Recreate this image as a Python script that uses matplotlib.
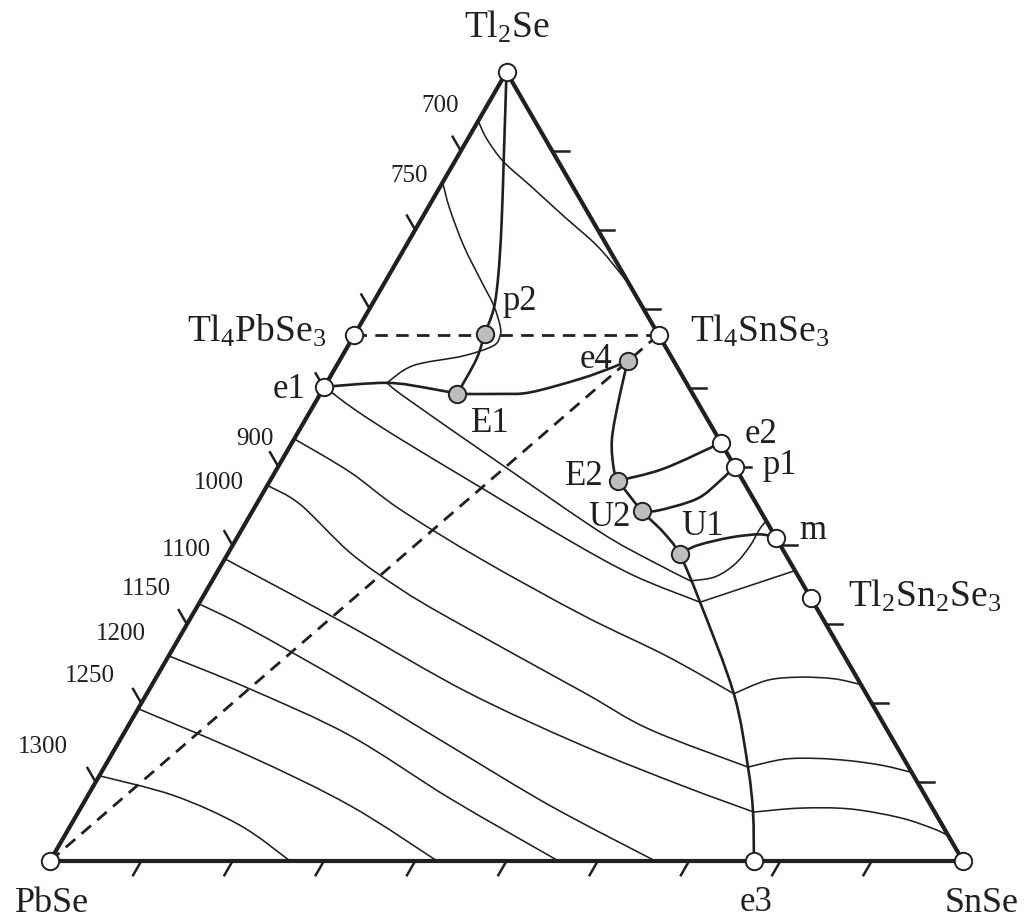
import numpy as np
import matplotlib
matplotlib.use('Agg')
import matplotlib.pyplot as plt
from matplotlib.path import Path
from matplotlib.patches import PathPatch

plt.rcParams['font.family'] = ['Liberation Serif', 'DejaVu Serif']
plt.rcParams['mathtext.fontset'] = 'custom'
plt.rcParams['mathtext.rm'] = 'Liberation Serif'
plt.rcParams['mathtext.it'] = 'Liberation Serif:italic'
plt.rcParams['mathtext.default'] = 'regular'

# ---------------- data (compositions, mol %: SnSe, Tl2Se) ----------------
open_names = ['Tl$_2$Se', 'PbSe', 'SnSe', 'Tl$_4$PbSe$_3$', 'Tl$_4$SnSe$_3$',
              'Tl$_2$Sn$_2$Se$_3$', 'e1', 'e2', 'p1', 'm', 'e3']
open_snse = [0, 0, 100, 0, 33.3, 66.7, 0, 47.0, 50.0, 59.0, 77.1]
open_tl2se = [100, 0, 0, 66.7, 66.7, 33.3, 60.1, 53.0, 50.0, 41.0, 0]

gray_names = ['p2', 'E1', 'e4', 'E2', 'U2', 'U1']
gray_snse = [14.2, 15.0, 31.6, 38.1, 42.6, 49.5]
gray_tl2se = [66.8, 59.2, 63.4, 48.2, 44.4, 38.9]

tick_values = [10, 20, 30, 40, 50, 60, 70, 80, 90]

# monovariant (boundary) curves
b_apex_p2_snse = [0, 5.2, 9.2, 12.0, 13.6, 14.2]
b_apex_p2_tl2se = [100, 89.0, 80.5, 74.2, 70.0, 66.8]
b_p2_E1_snse = [14.2, 14.9, 15.0]
b_p2_E1_tl2se = [66.8, 63.6, 59.2]
b_e1_E1_snse = [0, 6.6, 11.6, 15.0]
b_e1_E1_tl2se = [60.1, 60.6, 59.9, 59.2]
b_E1_e4_snse = [15.0, 19.7, 22.9, 27.5, 30.4, 31.6]
b_E1_e4_tl2se = [59.2, 59.2, 59.4, 61.1, 62.6, 63.4]
b_e4_E2_snse = [31.6, 32.9, 34.8, 36.9, 38.1]
b_e4_E2_tl2se = [63.4, 59.0, 53.5, 49.7, 48.2]
b_E2_e2_snse = [38.1, 42.3, 47.0]
b_E2_e2_tl2se = [48.2, 49.7, 53.0]
b_E2_e3_snse = [38.1, 42.6, 46.3, 49.5, 54.8, 64.3, 70.5, 73.9, 77.1]
b_E2_e3_tl2se = [48.2, 44.4, 41.7, 38.9, 32.8, 21.2, 11.9, 6.2, 0]
b_U2_p1_snse = [42.6, 44.3, 47.9, 49.3, 50.0]
b_U2_p1_tl2se = [44.4, 44.4, 45.9, 48.2, 50.0]
b_U1_m_snse = [49.5, 50.9, 54.0, 57.0, 59.0]
b_U1_m_tl2se = [38.9, 40.0, 41.0, 41.4, 41.0]

# isotherms
iso700_snse = [0, 2.1, 5.4, 9.8, 15.3, 20.9, 25.1, 27.1]
iso700_tl2se = [93.8, 91.5, 88.6, 85.6, 81.8, 78.0, 74.6, 72.9]
iso750_snse = [0, 2.5, 6.3, 10.2, 13.4, 15.4, 16.0, 15.9, 13.2, 8.4, 6.6]
iso750_tl2se = [86.0, 82.6, 78.0, 73.8, 70.4, 67.8, 66.6, 65.3, 64.0, 62.8, 60.6]
isoA_snse = [6.6, 9.8, 24.6, 39.4, 46.7, 52.4]
isoA_tl2se = [60.6, 58.6, 50.1, 41.7, 38.1, 35.5]
isoA_r_snse = [52.4, 54.8, 56.2, 56.7, 56.7, 56.9]
isoA_r_tl2se = [35.5, 36.0, 37.6, 39.9, 42.1, 43.1]
isoB_snse = [0, 4.8, 11.6, 23.4, 36.2, 45.8, 54.8]
isoB_tl2se = [60.1, 57.2, 53.5, 47.4, 40.8, 36.2, 32.8]
isoB_r_snse = [54.8, 59.2, 63.2]
isoB_r_tl2se = [32.8, 34.9, 36.8]
iso900_snse = [0, 8.2, 16.0, 28.0, 42.9, 54.5, 64.3]
iso900_tl2se = [53.5, 49.3, 44.6, 38.3, 31.1, 26.0, 21.2]
iso900_r_snse = [64.3, 67.1, 70.5, 74.3, 77.5]
iso900_r_tl2se = [21.2, 22.9, 23.3, 23.1, 22.4]
iso1000_snse = [0, 4.8, 13.3, 21.1, 28.5, 47.7, 57.3, 70.5]
iso1000_tl2se = [47.6, 45.2, 39.1, 34.5, 30.7, 21.4, 16.7, 11.9]
iso1000_r_snse = [70.5, 73.9, 77.5, 81.3, 85.2, 88.9]
iso1000_r_tl2se = [11.9, 12.9, 13.0, 12.7, 12.1, 11.2]
iso1100_snse = [0, 3.6, 17.9, 35.0, 51.1, 64.6, 74.0]
iso1100_tl2se = [38.3, 36.6, 29.8, 21.4, 14.6, 9.5, 6.2]
iso1100_r_snse = [74.0, 78.8, 84.3, 90.3, 94.7, 96.8]
iso1100_r_tl2se = [6.2, 6.7, 6.6, 5.5, 4.1, 3.2]
iso1150_snse = [0, 7.2, 21.8, 36.5, 51.3, 66.3]
iso1150_tl2se = [32.6, 29.4, 22.2, 14.6, 7.0, 0]
iso1200_snse = [0, 11.0, 24.9, 39.9, 55.7]
iso1200_tl2se = [26.0, 21.8, 15.9, 7.9, 0]
iso1250_snse = [0, 15.2, 29.4, 42.4]
iso1250_tl2se = [19.3, 13.3, 7.0, 0]
iso1300_snse = [0, 9.4, 18.6, 26.3]
iso1300_tl2se = [10.8, 8.3, 4.5, 0]

iso_labels = ['700', '750', '900', '1000', '1100', '1150', '1200', '1250', '1300']

# ---------------- helpers ----------------
INK = '#231f20'
S3 = np.sqrt(3) / 2


def tern(sn, tl):
    sn = np.asarray(sn, float)
    tl = np.asarray(tl, float)
    return sn + tl / 2, tl * S3


def smooth_path(xs, ys):
    P = np.column_stack([xs, ys])
    n = len(P)
    if n == 2:
        return Path(P)
    ext = np.vstack([P[0], P, P[-1]])
    verts = [P[0]]
    codes = [Path.MOVETO]
    for i in range(n - 1):
        p0, p1, p2, p3 = ext[i], ext[i + 1], ext[i + 2], ext[i + 3]
        c1 = p1 + (p2 - p0) / 6
        c2 = p2 - (p3 - p1) / 6
        verts += [c1, c2, p2]
        codes += [Path.CURVE4] * 3
    return Path(verts, codes)


def curve(ax, sn, tl, lw, z=2):
    x, y = tern(sn, tl)
    ax.add_patch(PathPatch(smooth_path(x, y), fill=False, lw=lw, edgecolor=INK,
                           capstyle='round', joinstyle='round', zorder=z,
                           clip_on=False))


fig = plt.figure(figsize=(10.24, 9.2), dpi=100)
ax = fig.add_axes([50 / 1024, 58 / 920, 913 / 1024, 789 / 920])
ax.set_xlim(0, 100)
ax.set_ylim(0, 100 * S3)
ax.axis('off')

# triangle frame
tx, ty = tern([0, 100, 0, 0], [0, 0, 100, 0])
ax.plot(tx, ty, color=INK, lw=3.0, solid_joinstyle='miter', clip_on=False, zorder=3)

# ticks
L = 1.8
for t in tick_values:
    x0, y0 = tern(t, 0)
    ax.plot([x0, x0 - 0.5 * L], [y0, y0 - S3 * L], color=INK, lw=1.8, clip_on=False)
    x0, y0 = tern(0, t)
    ax.plot([x0, x0 - 0.5 * L], [y0, y0 + S3 * L], color=INK, lw=1.8, clip_on=False)
    x0, y0 = tern(100 - t, t)
    ax.plot([x0, x0 + L], [y0, y0], color=INK, lw=1.8, clip_on=False)

# dashed quasi-binary sections
for (a, b) in [(3, 4), (1, 4)]:
    dx, dy = tern([open_snse[a], open_snse[b]], [open_tl2se[a], open_tl2se[b]])
    ax.plot(dx, dy, color=INK, lw=2.0, linestyle=(0, (4.5, 3.0)), zorder=2, clip_on=False)

# isotherms
iso_main = [(iso700_snse, iso700_tl2se), (iso750_snse, iso750_tl2se),
            (iso900_snse, iso900_tl2se), (iso1000_snse, iso1000_tl2se),
            (iso1100_snse, iso1100_tl2se), (iso1150_snse, iso1150_tl2se),
            (iso1200_snse, iso1200_tl2se), (iso1250_snse, iso1250_tl2se),
            (iso1300_snse, iso1300_tl2se)]
iso_extra = [(isoA_snse, isoA_tl2se), (isoA_r_snse, isoA_r_tl2se),
             (isoB_snse, isoB_tl2se), (isoB_r_snse, isoB_r_tl2se),
             (iso900_r_snse, iso900_r_tl2se), (iso1000_r_snse, iso1000_r_tl2se),
             (iso1100_r_snse, iso1100_r_tl2se)]
for sn, tl in iso_main + iso_extra:
    curve(ax, sn, tl, lw=1.15)

# isotherm labels (offset in pixels from the start of each isotherm)
iso_label_off = [(-38, 16), (-33, 7), (-39, 1), (-48, 3), (-38, 10),
                 (-52, 16), (-48, 23), (-48, 34), (-56, 30)]
for lab, (sn, tl), off in zip(iso_labels, iso_main, iso_label_off):
    x0, y0 = tern(sn[0], tl[0])
    ax.annotate(lab, xy=(x0, y0), xytext=off, textcoords='offset pixels',
                ha='center', va='center', fontsize=18, color=INK)

# boundary curves
bounds = [(b_apex_p2_snse, b_apex_p2_tl2se), (b_p2_E1_snse, b_p2_E1_tl2se),
          (b_e1_E1_snse, b_e1_E1_tl2se), (b_E1_e4_snse, b_E1_e4_tl2se),
          (b_e4_E2_snse, b_e4_E2_tl2se), (b_E2_e2_snse, b_E2_e2_tl2se),
          (b_E2_e3_snse, b_E2_e3_tl2se), (b_U2_p1_snse, b_U2_p1_tl2se),
          (b_U1_m_snse, b_U1_m_tl2se)]
for sn, tl in bounds:
    curve(ax, sn, tl, lw=1.9, z=3)

# points
ox, oy = tern(open_snse, open_tl2se)
ax.plot(ox, oy, 'o', ms=12.5, mfc='white', mec=INK, mew=1.4, zorder=6, clip_on=False)
gx, gy = tern(gray_snse, gray_tl2se)
ax.plot(gx, gy, 'o', ms=12.5, mfc='#bdbdbd', mec=INK, mew=1.4, zorder=6, clip_on=False)

# point labels
open_off = [(0, 35, 'center'), (2, -50, 'center'), (19, -50, 'center'),
            (-28, -6, 'right'), (31, -6, 'left'), (37, -7, 'left'),
            (-19, -10, 'right'), (24, 1, 'left'), (28, -7, 'left'),
            (23, 0, 'left'), (2, -49, 'center')]
open_fs = [27, 26, 26, 27, 27, 27, 25, 25, 25, 25, 25]
for name, x0, y0, (dx, dy, ha), fs in zip(open_names, ox, oy, open_off, open_fs):
    ax.annotate(name, xy=(x0, y0), xytext=(dx, dy), textcoords='offset pixels',
                ha=ha, va='baseline', fontsize=fs, color=INK)

gray_off = [(18, 25, 'left'), (14, -37, 'left'), (-16, -6, 'right'),
            (-14, -3, 'right'), (-11, -14, 'right'), (2, 20, 'left')]
for name, x0, y0, (dx, dy, ha) in zip(gray_names, gx, gy, gray_off):
    ax.annotate(name, xy=(x0, y0), xytext=(dx, dy), textcoords='offset pixels',
                ha=ha, va='baseline', fontsize=25, color=INK)

fig.savefig('out.png', dpi=100, facecolor='white')
